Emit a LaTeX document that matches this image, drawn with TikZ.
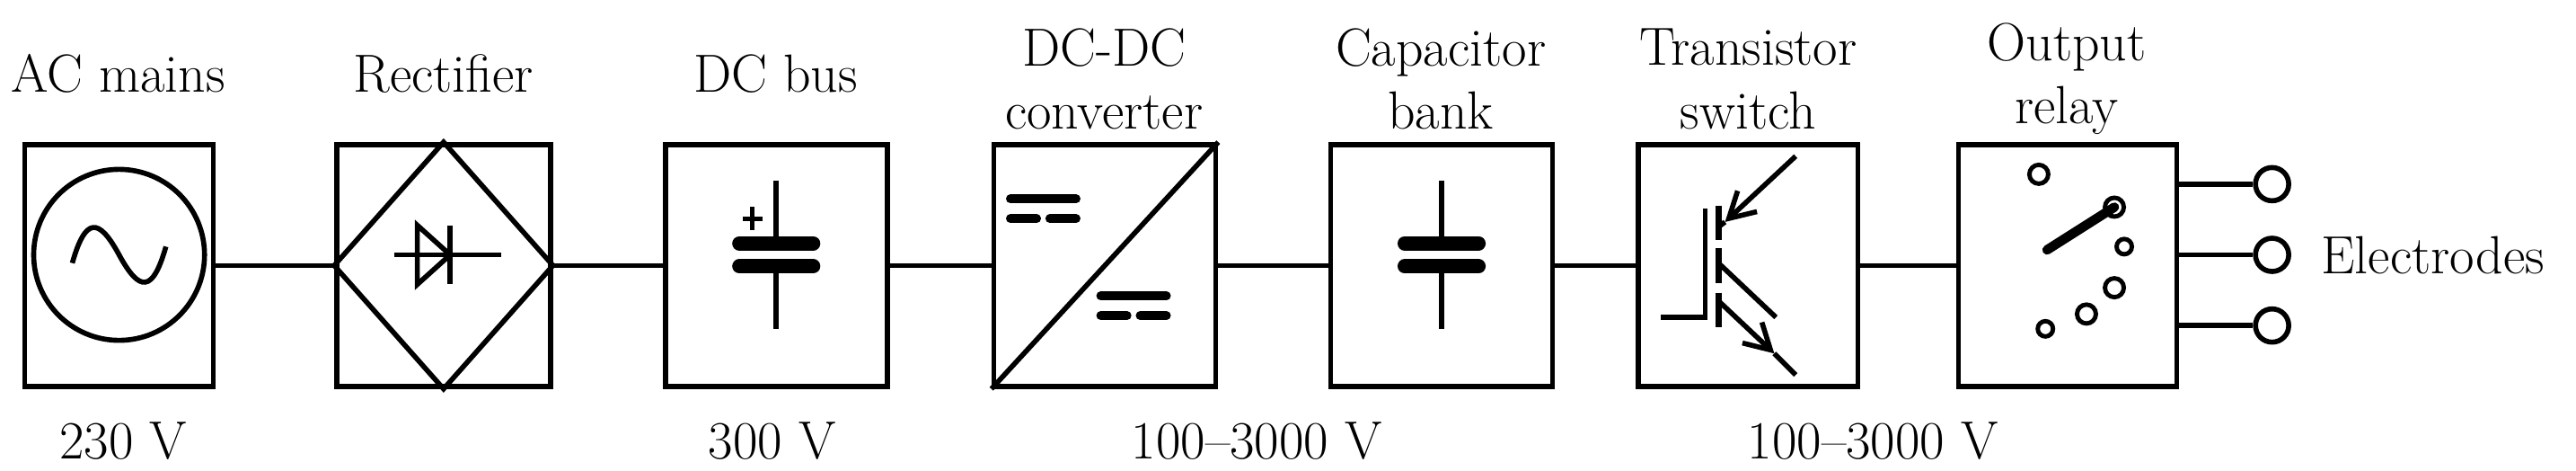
\documentclass[tikz,border=0pt]{standalone}
\usetikzlibrary{arrows.meta}
\begin{document}
\begin{tikzpicture}[x=0.01829cm,y=-0.01829cm,line width=1.6pt,
  blk/.style={draw,rectangle,minimum width=2.45cm,minimum height=2.69cm,inner sep=0pt},
  lbl/.style={font=\fontsize{17}{20}\selectfont,align=center},
  thick plate/.style={line width=4.5pt,line cap=round},
  term/.style={draw,circle,minimum size=0.37cm,inner sep=0pt},
  pin/.style={draw,circle,minimum size=0.21cm,inner sep=0pt,line width=1.4pt}]
\useasboundingbox (0,0) rectangle (1568,286);
% blocks
\node[blk,minimum width=2.10cm] (ac) at (72.5,161.5) {};
\node[blk,minimum width=2.38cm] (rec) at (270,161.5) {};
\node[blk,minimum width=2.47cm] (dcb) at (472.5,161.5) {};
\node[blk,minimum width=2.47cm] (dcdc) at (672.5,161.5) {};
\node[blk,minimum width=2.47cm] (cap) at (877.5,161.5) {};
\node[blk,minimum width=2.45cm] (tr) at (1064,161.5) {};
\node[blk,minimum width=2.43cm] (rel) at (1258.5,161.5) {};
% connectors
\draw (ac.east) -- (rec.west);
\draw (rec.east) -- (dcb.west);
\draw (dcb.east) -- (dcdc.west);
\draw (dcdc.east) -- (cap.west);
\draw (cap.east) -- (tr.west);
\draw (tr.east) -- (rel.west);
% AC source
\draw (72.5,155) circle[radius=52];
\draw (44,160) .. controls (52,132) and (60,132) .. (72.5,155) .. controls (85,178) and (93,178) .. (101,150);
% rectifier
\draw (rec.west) -- (rec.north) -- (rec.east) -- (rec.south) -- cycle;
\draw (240,155) -- (305,155);
\draw (254,137) -- (254,173) -- (274,155) -- cycle;
\draw (274,137) -- (274,173);
% DC bus
\draw (472.5,110) -- (472.5,148) (472.5,162) -- (472.5,200);
\draw[thick plate] (450,148) -- (495,148) (450,162) -- (495,162);
\draw[line width=1.3pt] (458,126) -- (458,140) (452,133) -- (464,133);
% DC-DC
\draw (dcdc.south west) -- (dcdc.north east);
\draw[line width=2.8pt,line cap=round] (615,121) -- (655,121) (615,133) -- (631,133) (639,133) -- (655,133)
  (670,180) -- (710,180) (670,192) -- (686,192) (694,192) -- (710,192);
% capacitor bank
\draw (877.5,110) -- (877.5,148) (877.5,162) -- (877.5,200);
\draw[thick plate] (855,148) -- (900,148) (855,162) -- (900,162);
% IGBT
\draw (1011,193) -- (1038,193) -- (1038,127);
\draw[line width=2pt] (1046,125) -- (1046,146) (1046,151) -- (1046,172) (1046,178) -- (1046,199);
\draw[-{Straight Barb[length=8pt,width=9pt]}] (1093,95) -- (1050,135);
\draw (1046,138) -- (1050,135);
\draw (1046,160) -- (1081,193);
\draw[-{Straight Barb[length=8pt,width=9pt]}] (1046,183) -- (1080,215);
\draw (1080,215) -- (1093,228);
% relay
\node[pin] (p1) at (1241,106) {};
\node[pin] (p2) at (1287,126) {};
\node[pin,minimum size=0.17cm] (p3) at (1293,150) {};
\node[pin] (p4) at (1287,175) {};
\node[pin] (p5) at (1270,191) {};
\node[pin,minimum size=0.17cm] (p6) at (1245,200) {};
\draw[line width=3pt,line cap=round] (1246,152) -- (p2.center);
% electrodes
\node[term] (e1) at (1383,112) {};
\node[term] (e2) at (1383,155) {};
\node[term] (e3) at (1383,198) {};
\draw (rel.east |- e1) -- (e1);
\draw (rel.east |- e2) -- (e2);
\draw (rel.east |- e3) -- (e3);
\node[lbl,anchor=west] (el) at (1405,155) {Electrodes};
% labels
\node[lbl] (l1) at (72,45) {AC mains};
\node[lbl] (l2) at (270,45) {Rectifier};
\node[lbl] (l3) at (472,45) {DC bus};
\node[lbl] (l4) at (672,48) {DC-DC\\converter};
\node[lbl] (l5) at (877,48) {Capacitor\\bank};
\node[lbl] (l6) at (1064,48) {Transistor\\switch};
\node[lbl] (l7) at (1258,48) {Output\\relay};
\node[lbl] (b1) at (75,268) {230 V};
\node[lbl] (b2) at (470,268) {300 V};
\node[lbl] (b3) at (765,268) {100--3000 V};
\node[lbl] (b4) at (1140,268) {100--3000 V};
\end{tikzpicture}
\end{document}
